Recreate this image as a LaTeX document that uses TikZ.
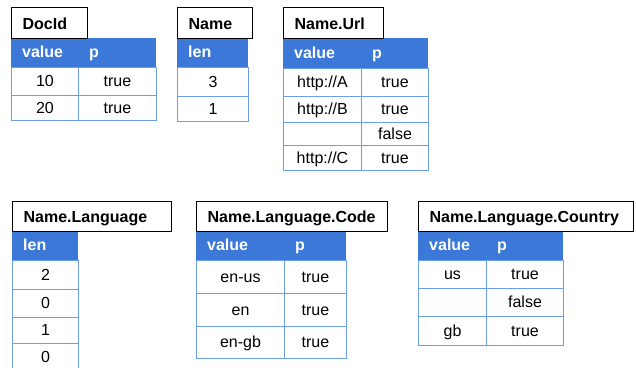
\documentclass[tikz,border=0pt]{standalone}
\usepackage{fontspec}
\setmainfont{Liberation Sans}
\usepackage{xcolor}
\usepackage{tikz}

\definecolor{headblue}{RGB}{60,120,216}
\definecolor{lineblue}{RGB}{109,158,235}

\begin{document}
\begin{tikzpicture}[x=1pt, y=-1pt,
  every node/.style={anchor=north west, inner sep=0pt, font=\fontsize{16}{19}\selectfont},
  tbltitle/.style={draw=black, line width=1.2pt, fill=white, inner xsep=11pt, align=left,
    text height=14pt, text depth=2pt, font=\fontsize{16}{19}\selectfont\bfseries},
  hdcell/.style={fill=headblue, text=white, inner xsep=11pt, align=left,
    text height=12pt, text depth=2pt, font=\fontsize{16}{19}\selectfont\bfseries},
  bodycell/.style={draw=lineblue, line width=1pt, text height=12pt, text depth=2pt},
]

\useasboundingbox (0,0) rectangle (636,367);

% DocId
\node[hdcell, text width=45pt, minimum height=29pt] (docid-hv) at (11,38) {value};
\node[hdcell, text width=56pt, minimum height=29pt] (docid-hp) at (78,38) {p};
\node[bodycell, minimum width=67pt, minimum height=28pt] (docid-v1) at (11,67) {10};
\node[bodycell, minimum width=78pt, minimum height=28pt] (docid-p1) at (78,67) {true};
\node[bodycell, minimum width=67pt, minimum height=25pt] (docid-v2) at (11,95) {20};
\node[bodycell, minimum width=78pt, minimum height=25pt] (docid-p2) at (78,95) {true};
\node[tbltitle, text width=54pt, minimum height=31pt] (docid) at (11,7) {DocId};

% Name
\node[hdcell, text width=49pt, minimum height=29pt] (name-hl) at (177,38) {len};
\node[bodycell, minimum width=71pt, minimum height=29pt] (name-l1) at (177,67) {3};
\node[bodycell, minimum width=71pt, minimum height=25pt] (name-l2) at (177,96) {1};
\node[tbltitle, text width=53pt, minimum height=31pt] (name) at (177,7) {Name};

% Name.Url
\node[hdcell, text width=56pt, minimum height=30pt] (url-hv) at (283,38) {value};
\node[hdcell, text width=45pt, minimum height=30pt] (url-hp) at (361,38) {p};
\node[bodycell, minimum width=78pt, minimum height=28pt] (url-v1) at (283,68) {http://A};
\node[bodycell, minimum width=67pt, minimum height=28pt] (url-p1) at (361,68) {true};
\node[bodycell, minimum width=78pt, minimum height=26pt] (url-v2) at (283,96) {http://B};
\node[bodycell, minimum width=67pt, minimum height=26pt] (url-p2) at (361,96) {true};
\node[bodycell, minimum width=78pt, minimum height=23pt] (url-v3) at (283,122) {};
\node[bodycell, minimum width=67pt, minimum height=23pt] (url-p3) at (361,122) {false};
\node[bodycell, minimum width=78pt, minimum height=25pt] (url-v4) at (283,145) {http://C};
\node[bodycell, minimum width=67pt, minimum height=25pt] (url-p4) at (361,145) {true};
\node[tbltitle, text width=78pt, minimum height=31pt] (url) at (283,7) {Name.Url};

% Name.Language
\node[hdcell, text width=44pt, minimum height=29pt] (lang-hl) at (12,231) {len};
\node[bodycell, minimum width=66pt, minimum height=29pt] (lang-l1) at (12,260) {2};
\node[bodycell, minimum width=66pt, minimum height=28pt] (lang-l2) at (12,289) {0};
\node[bodycell, minimum width=66pt, minimum height=26pt] (lang-l3) at (12,317) {1};
\node[bodycell, minimum width=66pt, minimum height=28pt] (lang-l4) at (12,343) {0};
\node[tbltitle, text width=137pt, minimum height=30pt] (lang) at (12,201) {Name.Language};

% Name.Language.Code
\node[hdcell, text width=66pt, minimum height=29pt] (code-hv) at (196,231) {value};
\node[hdcell, text width=40pt, minimum height=29pt] (code-hp) at (284,231) {p};
\node[bodycell, minimum width=88pt, minimum height=33pt] (code-v1) at (196,260) {en-us};
\node[bodycell, minimum width=62pt, minimum height=33pt] (code-p1) at (284,260) {true};
\node[bodycell, minimum width=88pt, minimum height=33pt] (code-v2) at (196,293) {en};
\node[bodycell, minimum width=62pt, minimum height=33pt] (code-p2) at (284,293) {true};
\node[bodycell, minimum width=88pt, minimum height=32pt] (code-v3) at (196,326) {en-gb};
\node[bodycell, minimum width=62pt, minimum height=32pt] (code-p3) at (284,326) {true};
\node[tbltitle, text width=169pt, minimum height=30pt] (code) at (196,201) {Name.Language.Code};

% Name.Language.Country
\node[hdcell, text width=46pt, minimum height=29pt] (ctry-hv) at (418,231) {value};
\node[hdcell, text width=55pt, minimum height=29pt] (ctry-hp) at (486,231) {p};
\node[bodycell, minimum width=68pt, minimum height=28pt] (ctry-v1) at (418,260) {us};
\node[bodycell, minimum width=77pt, minimum height=28pt] (ctry-p1) at (486,260) {true};
\node[bodycell, minimum width=68pt, minimum height=28pt] (ctry-v2) at (418,288) {};
\node[bodycell, minimum width=77pt, minimum height=28pt] (ctry-p2) at (486,288) {false};
\node[bodycell, minimum width=68pt, minimum height=29pt] (ctry-v3) at (418,316) {gb};
\node[bodycell, minimum width=77pt, minimum height=29pt] (ctry-p3) at (486,316) {true};
\node[tbltitle, text width=193pt, minimum height=30pt] (ctry) at (418,201) {Name.Language.Country};

\end{tikzpicture}
\end{document}
